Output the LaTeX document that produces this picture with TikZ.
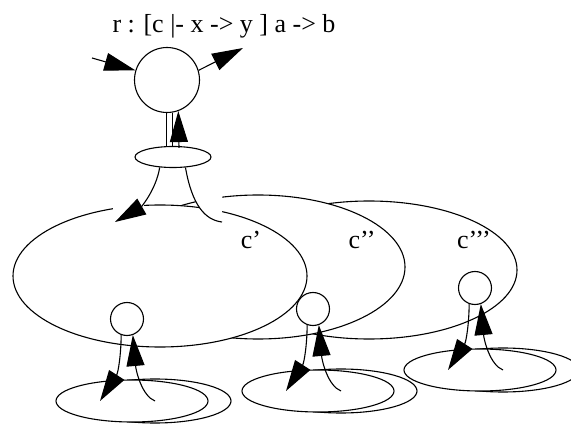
\documentclass[tikz,border=0pt]{standalone}
\usepackage{fontspec}
\setmainfont{Liberation Serif}
\usetikzlibrary{arrows.meta,shapes.geometric}
\tikzset{
  ball/.style={draw, circle, fill=white, inner sep=0pt},
  disc/.style={draw, ellipse, fill=white, inner sep=0pt},
  bigtip/.style={-{Triangle[length=31pt,width=18pt]}},
  lbl/.style={font=\fontsize{26}{30}\selectfont, inner sep=0pt, anchor=base}
}

\begin{document}
\begin{tikzpicture}[x=1pt,y=-1pt,line width=1.1pt]
\useasboundingbox (0,0) rectangle (571,425);

% === big ellipses (back to front) ===
\node[disc, minimum width=296pt, minimum height=138pt] (E3) at (369,270) {};
\node[disc, minimum width=294pt, minimum height=144pt] (E2) at (258,267) {};
\node[disc, minimum width=294pt, minimum height=142pt] (E1) at (160,276) {};

% Labels
\node[lbl] (c1) at (251,248) {c’};
\node[lbl] (c2) at (362,248) {c’’};
\node[lbl] (c3) at (474,248) {c’’’};

% === rule ===
\node[lbl] (title) at (224,33) {r : [c |- x -> y ] a -> b};
\node[ball, minimum size=65pt] (root) at (167,80) {};
\node[disc, minimum width=76pt, minimum height=21pt] (link) at (173,157) {};
\coordinate (in) at (92,58);
\coordinate (out) at (243,48);
\draw[bigtip] (in) -- (root.163);
\draw[bigtip] (root.17) -- (out);

% stem
\draw (root.-91) -- (root.-91 |- link.north);
\draw (root.-81) -- (root.-81 |- link.north);
\draw[bigtip] ([xshift=6pt,yshift=-2pt]link.north) -- (root.-70);

% trumpet
\coordinate (tl) at (115,222);
\coordinate (tr) at (222,222);
\fill[white] (link.-40) .. controls (192,205) and (205,220) .. (tr) -- (222,185) -- cycle;
\fill[white] (113,199) rectangle (144,212);
\draw (link.-40) .. controls (192,205) and (205,220) .. (tr);
\draw[bigtip] (link.-142) .. controls (156,190) and (141,207) .. (tl);

% === group 1 ===
\begin{scope}[shift={(132,401)}]
  \node[disc, minimum width=152pt, minimum height=44pt] (b1) at (23,0) {};
  \node[disc, minimum width=152pt, minimum height=42pt] (a1) at (0,0) {};
  \node[ball, minimum size=33pt] (s1) at (-5,-82) {};
  \coordinate (d1) at (-32,0);
  \draw[bigtip] (s1.-110) .. controls (-11,-45) and (-14,-28) .. (d1);
  \draw[bigtip] (b1.center) .. controls (10,-5) and (4,-30) .. (s1.-70);
\end{scope}

% === group 2 ===
\begin{scope}[shift={(318,391)}]
  \node[disc, minimum width=152pt, minimum height=44pt] (b2) at (23,0) {};
  \node[disc, minimum width=152pt, minimum height=42pt] (a2) at (0,0) {};
  \node[ball, minimum size=33pt] (s2) at (-5,-82) {};
  \coordinate (d2) at (-32,0);
  \draw[bigtip] (s2.-110) .. controls (-11,-45) and (-14,-28) .. (d2);
  \draw[bigtip] (b2.center) .. controls (10,-5) and (4,-30) .. (s2.-70);
\end{scope}

% === group 3 ===
\begin{scope}[shift={(480,370)}]
  \node[disc, minimum width=152pt, minimum height=44pt] (b3) at (23,0) {};
  \node[disc, minimum width=152pt, minimum height=42pt] (a3) at (0,0) {};
  \node[ball, minimum size=33pt] (s3) at (-5,-82) {};
  \coordinate (d3) at (-32,0);
  \draw[bigtip] (s3.-110) .. controls (-11,-45) and (-14,-28) .. (d3);
  \draw[bigtip] (b3.center) .. controls (10,-5) and (4,-30) .. (s3.-70);
\end{scope}

\end{tikzpicture}
\end{document}
